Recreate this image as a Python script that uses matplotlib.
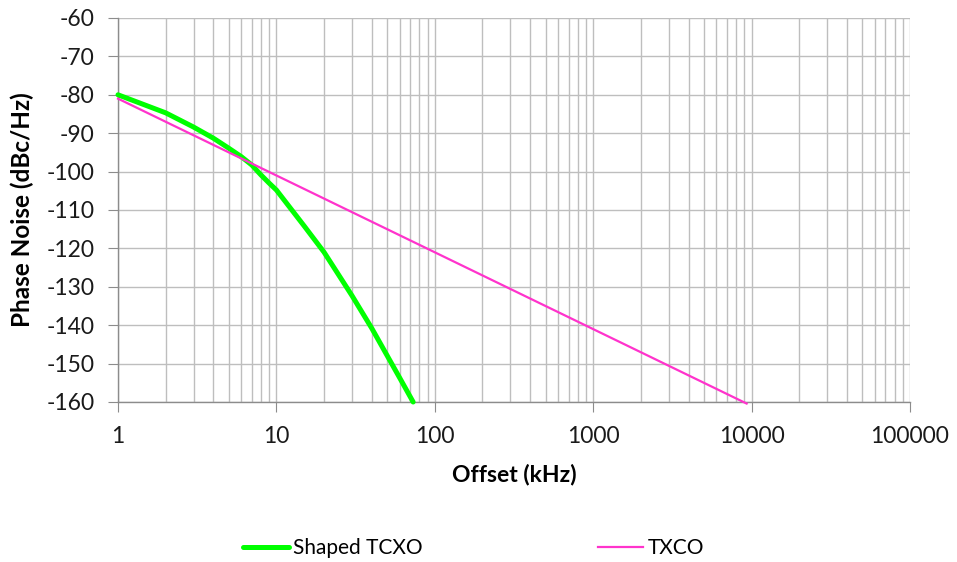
import numpy as np
import matplotlib.pyplot as plt
from matplotlib.ticker import LogLocator, FixedLocator, NullFormatter

# data
shaped_f = [1, 2, 3, 4, 5, 6, 7, 8, 9, 10, 15, 20, 30, 40, 50, 60, 73]
shaped_pn = [-80, -84.7, -88.4, -91.3, -93.9, -96.1, -98.3, -100.9, -103,
             -104.8, -114.2, -121, -132.3, -140.8, -147.9, -153.7, -160]
txco_f = [1, 9300]
txco_pn = [-81, -160.4]

xticks = [1, 10, 100, 1000, 10000, 100000]
xticklabels = ["1", "10", "100", "1000", "10000", "100000"]
yticks = list(range(-160, -59, 10))

plt.rcParams['font.family'] = ['Lato', 'DejaVu Sans']
plt.rcParams['axes.unicode_minus'] = False

fig = plt.figure(figsize=(9.57, 5.62), dpi=100)
ax = fig.add_axes([118/957, 1-402/562, (910-118)/957, (402-18)/562])

ax.plot(shaped_f, shaped_pn, color='#00FF00', lw=3.6, label='Shaped TCXO',
        solid_capstyle='round', solid_joinstyle='round', clip_on=False, zorder=3)
ax.plot(txco_f, txco_pn, color='#FF33CC', lw=1.6, label='TXCO',
        clip_on=False, zorder=3)

ax.set_xscale('log')
ax.set_xlim(1, 100000)
ax.set_ylim(-160, -60)
ax.xaxis.set_major_locator(FixedLocator(xticks))
ax.set_xticklabels(xticklabels)
ax.xaxis.set_minor_locator(LogLocator(base=10, subs=np.arange(2, 10)))
ax.xaxis.set_minor_formatter(NullFormatter())
ax.set_yticks(yticks)

ax.grid(True, which='major', color='#BEBEBE', lw=1.0)
ax.grid(True, which='minor', axis='x', color='#BEBEBE', lw=1.0)
ax.set_axisbelow(True)

for s in ['top', 'right']:
    ax.spines[s].set_visible(False)
for s in ['left', 'bottom']:
    ax.spines[s].set_color('#8C8C8C')
    ax.spines[s].set_linewidth(1.0)

ax.tick_params(axis='both', which='major', length=7, color='#8C8C8C',
               labelsize=16.5, labelcolor='#1A1A1A')
ax.tick_params(axis='y', which='major', pad=10)
ax.tick_params(axis='x', which='minor', length=0)
ax.tick_params(axis='x', which='major', pad=10)

ax.set_xlabel('Offset (kHz)', fontsize=16.5, fontweight='bold', labelpad=12)
ax.set_ylabel('Phase Noise (dBc/Hz)', fontsize=17.5, fontweight='bold', labelpad=9)

fig.legend(loc='center left', bbox_to_anchor=(243/957, 0.025), ncol=2,
           frameon=False, borderpad=0, borderaxespad=0,
           fontsize=15, handlelength=2.2, handletextpad=0.2, columnspacing=8.4)

fig.savefig('out.png', dpi=100)
